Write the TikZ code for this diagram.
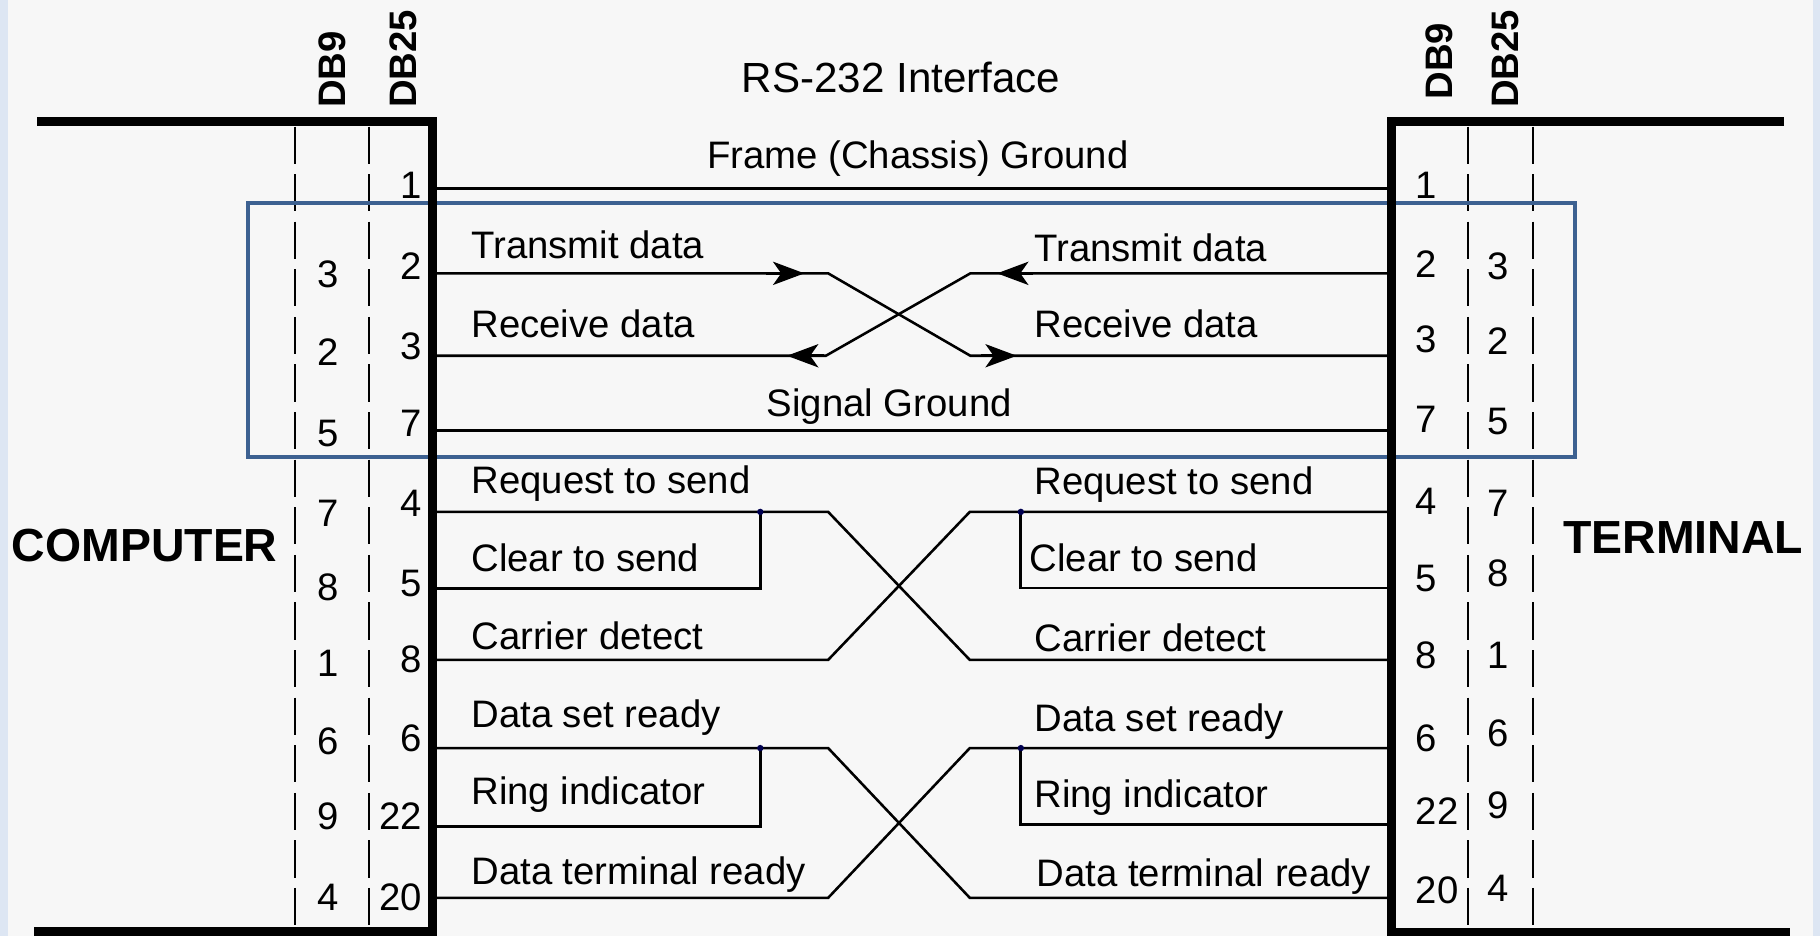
\documentclass[tikz,border=0pt]{standalone}
\usepackage{fontspec}
\setmainfont{Liberation Sans}
\usetikzlibrary{arrows.meta}
\definecolor{bgc}{HTML}{F7F7F7}
\definecolor{sidec}{HTML}{DDE6F3}
\definecolor{boxc}{HTML}{3D6191}
\definecolor{dotc}{HTML}{000050}
\tikzset{
  lbl/.style={font=\fontsize{33}{40}\selectfont, inner sep=0pt, anchor=base west},
  pin/.style={font=\fontsize{33}{40}\selectfont, inner sep=0pt},
  hdr/.style={font=\fontsize{33}{40}\selectfont\bfseries, inner sep=0pt, rotate=90, anchor=base west},
  sidelbl/.style={font=\fontsize{40}{48}\selectfont\bfseries, inner sep=0pt, anchor=base west},
  conn/.style={line width=7.8pt, line join=miter},
  sig/.style={line width=2.2pt, line join=miter},
  sepline/.style={line width=1.6pt, dash pattern=on 32pt off 9pt},
  arr/.style={-{Stealth[length=27pt,width=20pt,inset=7pt]}, line width=2.2pt},
  jdot/.style={circle, fill=dotc, inner sep=0pt, minimum size=5.5pt},
}
\begin{document}
\begin{tikzpicture}[x=1pt,y=-1pt]
\fill[sidec] (0,0) rectangle (1568,806);
\fill[bgc] (6.5,0) rectangle (1562,806);
\useasboundingbox (0,0) rectangle (1568,806);

% pin end points on the connector bars
\foreach \n/\y in {1/162.5,2/235.5,3/306.5,7/371,4/441,5/507,8/568.5,6/644.5,22/712,20/773.5}
  \coordinate (pL\n) at (372.5,\y);
\foreach \n/\y in {1/162.5,2/235.5,3/306.5,7/371,4/441,5/506.5,8/568.5,6/644.5,22/710.5,20/773.5}
  \coordinate (pR\n) at (1198.7,\y);

% dashed column separators
\coordinate (dA1) at (254.3,109); \coordinate (dA2) at (254.3,798);
\coordinate (dB1) at (318,109);   \coordinate (dB2) at (318,798);
\coordinate (dC1) at (1264.5,109); \coordinate (dC2) at (1264.5,798);
\coordinate (dD1) at (1320.5,109); \coordinate (dD2) at (1320.5,798);
\draw[sepline] (dA1) -- (dA2);
\draw[sepline] (dB1) -- (dB2);
\draw[sepline] (dC1) -- (dC2);
\draw[sepline] (dD1) -- (dD2);

% highlight box
\coordinate (bx1) at (213.5,175); \coordinate (bx2) at (1357,394);
\draw[boxc, line width=3.4pt] (bx1) rectangle (bx2);

% signal lines
\draw[sig] (pL1) -- (pR1);
\draw[sig] (pL2) -- (713.5,235.5) -- (836,306.5) -- (pR3);
\draw[sig] (pR2) -- (836,235.5) -- (711.5,306.5) -- (pL3);
\draw[sig] (pL7) -- (pR7);

\draw[sig] (pL4) -- (713.5,441) -- (835.5,568.5) -- (pR8);
\draw[sig] (pL8) -- (713.5,568.5) -- (835.5,441) -- (pR4);
\draw[sig] (pL5) -- (655,507) -- (655,441);
\draw[sig] (pR5) -- (879,506.5) -- (879,441);

\draw[sig] (pL6) -- (713.5,644.5) -- (835.5,773.5) -- (pR20);
\draw[sig] (pL20) -- (713.5,773.5) -- (835.5,644.5) -- (pR6);
\draw[sig] (pL22) -- (655,712) -- (655,644.5);
\draw[sig] (pR22) -- (879,710.5) -- (879,644.5);

% arrowheads
\coordinate (a1b) at (660,235.5); \coordinate (a1t) at (693,235.5);
\coordinate (a2b) at (890,235.5); \coordinate (a2t) at (859,235.5);
\coordinate (a3b) at (710,306.5); \coordinate (a3t) at (678,306.5);
\coordinate (a4b) at (845,306.5); \coordinate (a4t) at (876,306.5);
\draw[arr] (a1b) -- (a1t);
\draw[arr] (a2b) -- (a2t);
\draw[arr] (a3b) -- (a3t);
\draw[arr] (a4b) -- (a4t);

% junction dots
\node[jdot] (j1) at (655,441) {};
\node[jdot] (j2) at (879.5,441) {};
\node[jdot] (j3) at (655,644.5) {};
\node[jdot] (j4) at (879.5,644.5) {};

% connector bars
\coordinate (cL1) at (32,104.8); \coordinate (cL2) at (372.5,104.8);
\coordinate (cL3) at (372.5,802.5); \coordinate (cL4) at (29,802.5);
\coordinate (cR1) at (1537,104.8); \coordinate (cR2) at (1198.7,104.8);
\coordinate (cR3) at (1198.7,803); \coordinate (cR4) at (1542,803);
\draw[conn] (cL1) -- (cL2) -- (cL3) -- (cL4);
\draw[conn] (cR1) -- (cR2) -- (cR3) -- (cR4);

% titles
\node[lbl, font=\fontsize{36.3}{44}\selectfont] (title) at (639,80) {RS-232 Interface};
\node[lbl] (fg) at (609,145) {Frame (Chassis) Ground};
\node[lbl] (sg) at (660.5,359) {Signal Ground};
\node[sidelbl] (comp) at (10,484) {COMPUTER};
\node[sidelbl] (term) at (1346.6,476.5) {TERMINAL};

% column headers
\node[hdr] (h1) at (298,93) {DB9};
\node[hdr] (h2) at (359,93) {DB25};
\node[hdr] (h3) at (1251,86) {DB9};
\node[hdr] (h4) at (1308,93) {DB25};

% left labels
\node[lbl] (lt1) at (406,223) {Transmit data};
\node[lbl] (lt2) at (406,291) {Receive data};
\node[lbl] (lt3) at (406,425) {Request to send};
\node[lbl] (lt4) at (406,492.5) {Clear to send};
\node[lbl] (lt5) at (406,559.5) {Carrier detect};
\node[lbl] (lt6) at (406,627) {Data set ready};
\node[lbl] (lt7) at (406,693.5) {Ring indicator};
\node[lbl] (lt8) at (406,762) {Data terminal ready};

% right labels
\node[lbl] (rt1) at (891,225) {Transmit data};
\node[lbl] (rt2) at (891,291) {Receive data};
\node[lbl] (rt3) at (891,426) {Request to send};
\node[lbl] (rt4) at (887,492.5) {Clear to send};
\node[lbl] (rt5) at (891,561) {Carrier detect};
\node[lbl] (rt6) at (891,630) {Data set ready};
\node[lbl] (rt7) at (891,696) {Ring indicator};
\node[lbl] (rt8) at (893,764) {Data terminal ready};

% left DB25 pins (right aligned)
\foreach \t/\y [count=\i] in {1/170.6,2/241,3/310,7/376,4/445,5/514,8/579,6/647.6,22/715,20/784}
  \node[pin, anchor=base east] (lb\i) at (363.5,\y) {\t};
% left DB9 pins (centred)
\foreach \t/\y [count=\i] in {3/248,2/315,5/385,7/454,8/517,1/583,6/650,9/715,4/784}
  \node[pin, anchor=base] (la\i) at (282.5,\y) {\t};
% right DB9 pins (left aligned)
\foreach \t/\y [count=\i] in {1/170.6,2/238.8,3/304,7/373,4/443.6,5/510,8/575.6,6/647.5,22/710.6,20/778}
  \node[pin, anchor=base west] (ra\i) at (1219.5,\y) {\t};
% right DB25 pins (centred)
\foreach \t/\y [count=\i] in {3/241,2/305.8,5/374.7,7/445,8/505.5,1/575.6,6/643,9/704.8,4/776.7}
  \node[pin, anchor=base] (rb\i) at (1290.5,\y) {\t};
\end{tikzpicture}
\end{document}
